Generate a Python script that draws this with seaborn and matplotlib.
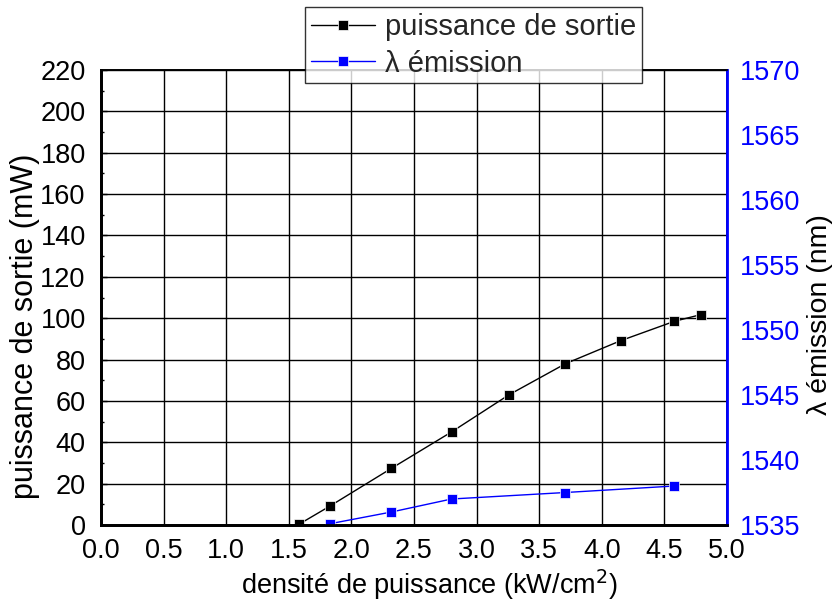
import matplotlib
matplotlib.use("Agg")
import matplotlib.pyplot as plt
import seaborn as sns
import pandas as pd
from matplotlib.ticker import MultipleLocator

# data
x_power = [1.58, 1.83, 2.32, 2.80, 3.26, 3.71, 4.15, 4.58, 4.79]
y_power = [0.3, 9.2, 27.4, 45.0, 63.0, 78.0, 89.1, 98.5, 101.7]
x_lambda = [1.83, 2.32, 2.80, 3.71, 4.58]
y_lambda = [1535.1, 1536.0, 1537.0, 1537.5, 1538.0]
xticks = [0.0, 0.5, 1.0, 1.5, 2.0, 2.5, 3.0, 3.5, 4.0, 4.5, 5.0]
yticks_left = list(range(0, 221, 20))
yticks_right = list(range(1535, 1571, 5))

sns.set_theme(style="white")
plt.rcParams['font.family'] = ['Liberation Sans', 'DejaVu Sans']
FS = 19.5

df1 = pd.DataFrame({"x": x_power, "y": y_power})
df2 = pd.DataFrame({"x": x_lambda, "y": y_lambda})

fig = plt.figure(figsize=(8.37, 6.04), dpi=100)
ax = fig.add_axes([101/837, 1-525/604, 626/837, 455/604])
ax2 = ax.twinx()

sns.lineplot(data=df1, x="x", y="y", ax=ax, color="black", lw=1, marker="s",
             markersize=7.5, markeredgecolor="white", markeredgewidth=0.5,
             label="puissance de sortie", legend=False)
sns.lineplot(data=df2, x="x", y="y", ax=ax2, color="blue", lw=1, marker="s",
             markersize=7.5, markeredgecolor="white", markeredgewidth=0.5,
             label="λ émission", legend=False)

ax.set_xlim(0, 5)
ax.set_ylim(0, 220)
ax2.set_ylim(1535, 1570)
ax.set_xticks(xticks)
ax.set_xticklabels([f"{t:.1f}" for t in xticks])
ax.set_yticks(yticks_left)
ax2.set_yticks(yticks_right)
ax.xaxis.set_minor_locator(MultipleLocator(0.25))
ax.yaxis.set_minor_locator(MultipleLocator(10))

ax.grid(True, which="major", color="black", lw=1)
ax.set_axisbelow(True)

ax.tick_params(axis="both", which="both", direction="in", labelsize=FS, colors="black")
ax.tick_params(which="major", length=4, width=1)
ax.tick_params(which="minor", length=2.5, width=1)
ax.tick_params(axis="x", which="both", pad=9)
ax.tick_params(axis="y", which="both", pad=11)
ax2.tick_params(axis="y", which="both", direction="in", labelsize=FS, colors="blue",
                length=0, pad=9)

ax.set_xlabel("densité de puissance (kW/cm$^2$)", fontsize=19.5, color="black")
ax.xaxis.set_label_coords(0.524, -0.094)
ax.set_ylabel("puissance de sortie (mW)", fontsize=22, color="black")
ax.yaxis.set_label_coords(-0.097, 0.437)
ax2.set_ylabel("λ émission (nm)", fontsize=20.5, color="black")
ax2.yaxis.set_label_coords(1.127, 0.462)

for a in (ax, ax2):
    for s in a.spines.values():
        s.set_color("black")
        s.set_linewidth(1.2)
ax.spines["left"].set_linewidth(2)
ax.spines["bottom"].set_linewidth(2)
ax2.spines["left"].set_linewidth(2)
ax2.spines["bottom"].set_linewidth(2)
ax2.spines["right"].set_color("blue")
ax2.spines["right"].set_linewidth(2)

h1, l1 = ax.get_legend_handles_labels()
h2, l2 = ax2.get_legend_handles_labels()
leg = fig.legend(h1 + h2, l1 + l2, loc="upper left", bbox_to_anchor=(305/837, 1-7/604),
                 fontsize=21, frameon=True, fancybox=False, edgecolor="black",
                 handlelength=2.2, handletextpad=0.35, borderpad=0.2, labelspacing=0.3,
                 borderaxespad=0)
leg.get_frame().set_linewidth(1)
leg.set_zorder(10)

fig.savefig("out.png", dpi=100)
